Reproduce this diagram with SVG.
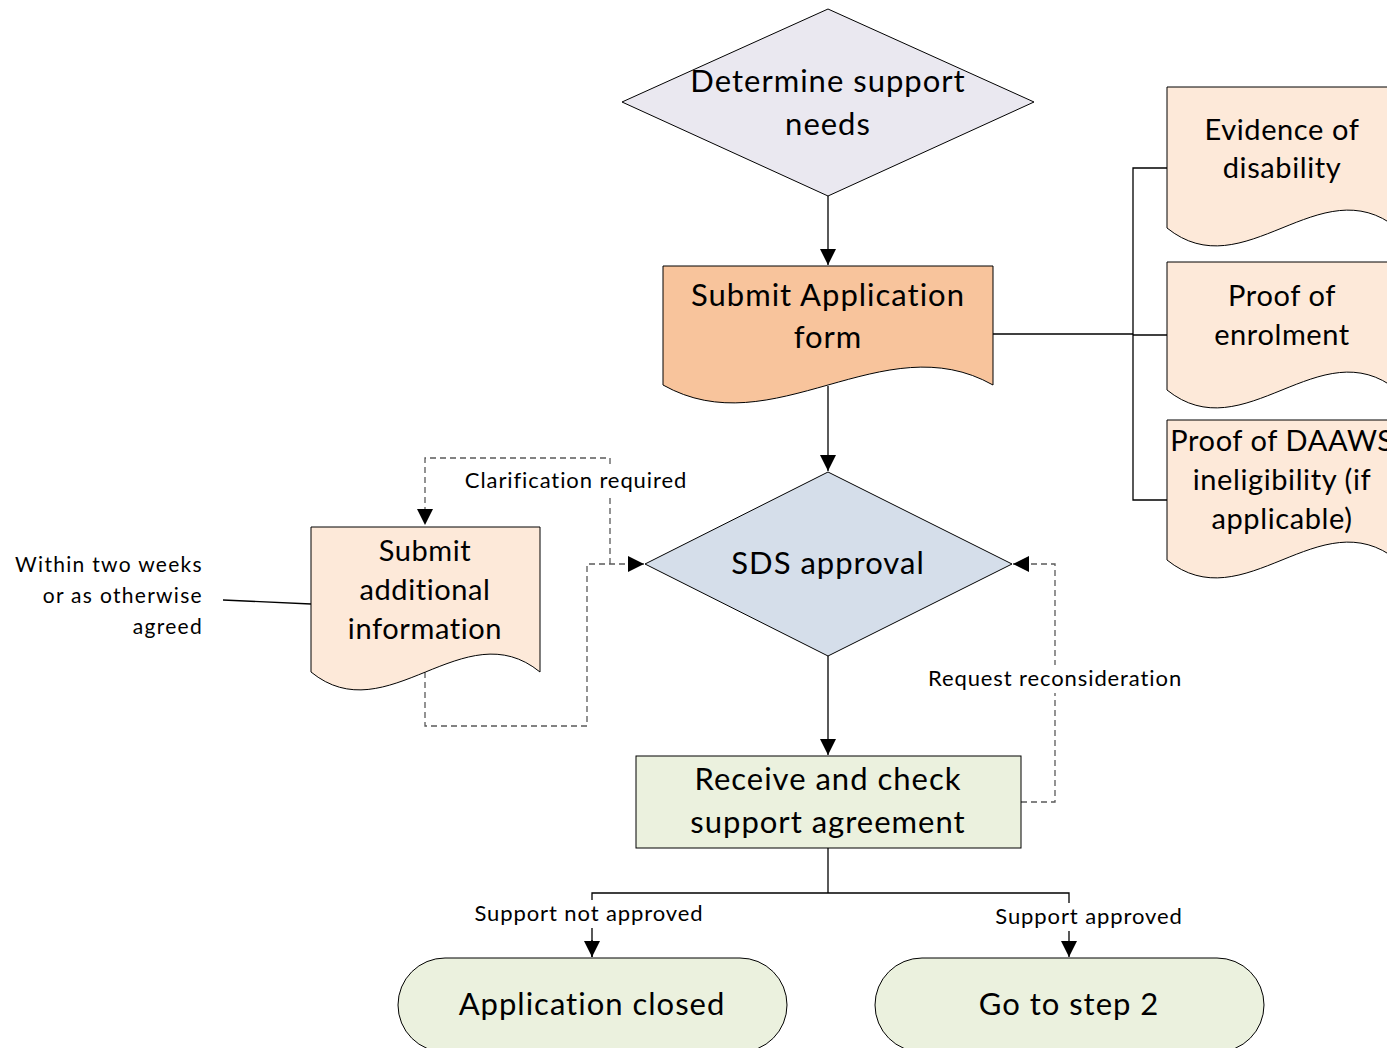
<svg xmlns="http://www.w3.org/2000/svg" width="1387" height="1048" viewBox="0 0 1387 1048">
  <style>
    .shape { stroke: #000; stroke-width: 1; }
    .t { font-family: Lato, "Open Sans", sans-serif; fill: #000; text-anchor: middle; }
    .big { font-size: 31px; letter-spacing: 1px; }
    .mid { font-size: 29px; letter-spacing: 0.6px; }
    .lbl { font-size: 22px; letter-spacing: 0.9px; }
    .side { font-size: 21px; letter-spacing: 1.3px; text-anchor: end; }
    .mask { fill: #fff; }
    .line { fill: none; stroke: #000; stroke-width: 1.3; }
    .dash { fill: none; stroke: #595959; stroke-width: 1.3; stroke-dasharray: 6 4; }
  </style>
  <defs>
    <marker id="arrow" markerUnits="userSpaceOnUse" markerWidth="18" markerHeight="16" refX="16" refY="8" orient="auto">
      <path d="M0,0 L16,8 L0,16 Z" fill="#000"/>
    </marker>
  </defs>

  <rect width="1387" height="1048" fill="#fff"/>

  <!-- connectors -->
  <g id="connectors">
    <line class="line" x1="828" y1="196" x2="828" y2="265" marker-end="url(#arrow)"/>
    <line class="line" x1="828" y1="386" x2="828" y2="471" marker-end="url(#arrow)"/>
    <line class="line" x1="828" y1="656" x2="828" y2="755" marker-end="url(#arrow)"/>
    <!-- attachments bracket -->
    <polyline class="line" points="993,334 1133,334"/>
    <polyline class="line" points="1167,168 1133,168 1133,500 1167,500"/>
    <line class="line" x1="1133" y1="335" x2="1167" y2="335"/>
    <!-- reconsideration loop -->
    <polyline class="dash" points="1021,802 1055,802 1055,564 1013,564" marker-end="url(#arrow)"/>
    <!-- clarification loop -->
    <polyline class="dash" points="610,564 610,458 425,458 425,525" marker-end="url(#arrow)"/>
    <polyline class="dash" points="425,672 425,726 587,726 587,564 644,564" marker-end="url(#arrow)"/>
    <!-- side note -->
    <line class="line" x1="223" y1="600" x2="311" y2="604" stroke-width="1"/>
    <!-- outcome split -->
    <polyline class="line" points="828,848 828,893"/>
    <polyline class="line" points="592,957 592,893 1069,893 1069,957" marker-end="url(#arrow)"/>
    <line class="line" x1="592" y1="940" x2="592" y2="957" marker-end="url(#arrow)"/>

    <!-- connector labels on white backing -->
    <rect class="mask" x="462" y="467" width="228" height="28"/>
    <text class="t lbl" x="576" y="488">Clarification required</text>
    <rect class="mask" x="924" y="665" width="262" height="28"/>
    <text class="t lbl" x="1055" y="686">Request reconsideration</text>
    <rect class="mask" x="470" y="900" width="238" height="28"/>
    <text class="t lbl" x="589" y="921">Support not approved</text>
    <rect class="mask" x="991" y="903" width="196" height="28"/>
    <text class="t lbl" x="1089" y="924">Support approved</text>
  </g>

  <g id="determine-needs">
    <polygon class="shape" points="622,102 828,9 1034,102 828,196" fill="#eae8f0"/>
    <text class="t big" x="828" y="92">Determine support</text>
    <text class="t big" x="828" y="135">needs</text>
  </g>

  <g id="submit-application">
    <path class="shape" d="M663,266 H993 V385 C883,323 773,447 663,385 Z" fill="#f8c49c"/>
    <text class="t big" x="828" y="306">Submit Application</text>
    <text class="t big" x="828" y="348">form</text>
  </g>

  <g id="evidence-disability">
    <path class="shape" d="M1167,87 H1397 V228 C1320,166 1244,290 1167,228 Z" fill="#fde9d9"/>
    <text class="t mid" x="1282" y="140">Evidence of</text>
    <text class="t mid" x="1282" y="178">disability</text>
  </g>

  <g id="proof-enrolment">
    <path class="shape" d="M1167,262 H1397 V390 C1320,328 1244,452 1167,390 Z" fill="#fde9d9"/>
    <text class="t mid" x="1282" y="306">Proof of</text>
    <text class="t mid" x="1282" y="345">enrolment</text>
  </g>

  <g id="proof-daaws">
    <path class="shape" d="M1167,420 H1397 V560 C1320,498 1244,622 1167,560 Z" fill="#fde9d9"/>
    <text class="t mid" x="1282" y="451">Proof of DAAWS</text>
    <text class="t mid" x="1282" y="490">ineligibility (if</text>
    <text class="t mid" x="1282" y="529">applicable)</text>
  </g>

  <g id="sds-approval">
    <polygon class="shape" points="645,564 828,472 1012,564 828,656" fill="#d5deea"/>
    <text class="t big" x="828" y="574">SDS approval</text>
  </g>

  <g id="submit-additional">
    <path class="shape" d="M311,527 H540 V672 C464,610 387,734 311,672 Z" fill="#fde9d9"/>
    <text class="t mid" x="425" y="561">Submit</text>
    <text class="t mid" x="425" y="600">additional</text>
    <text class="t mid" x="425" y="639">information</text>
  </g>

  <g id="timing-note">
    <text class="t side" x="203" y="572">Within two weeks</text>
    <text class="t side" x="203" y="603">or as otherwise</text>
    <text class="t side" x="203" y="634">agreed</text>
  </g>

  <g id="receive-agreement">
    <rect class="shape" x="636" y="756" width="385" height="92" fill="#ebf1de"/>
    <text class="t big" x="828" y="790">Receive and check</text>
    <text class="t big" x="828" y="833">support agreement</text>
  </g>

  <g id="application-closed">
    <rect class="shape" x="398" y="958" width="389" height="94" rx="47" ry="47" fill="#ebf1de"/>
    <text class="t big" x="592" y="1015">Application closed</text>
  </g>

  <g id="go-step-2">
    <rect class="shape" x="875" y="958" width="389" height="94" rx="47" ry="47" fill="#ebf1de"/>
    <text class="t big" x="1069" y="1015">Go to step 2</text>
  </g>
</svg>
